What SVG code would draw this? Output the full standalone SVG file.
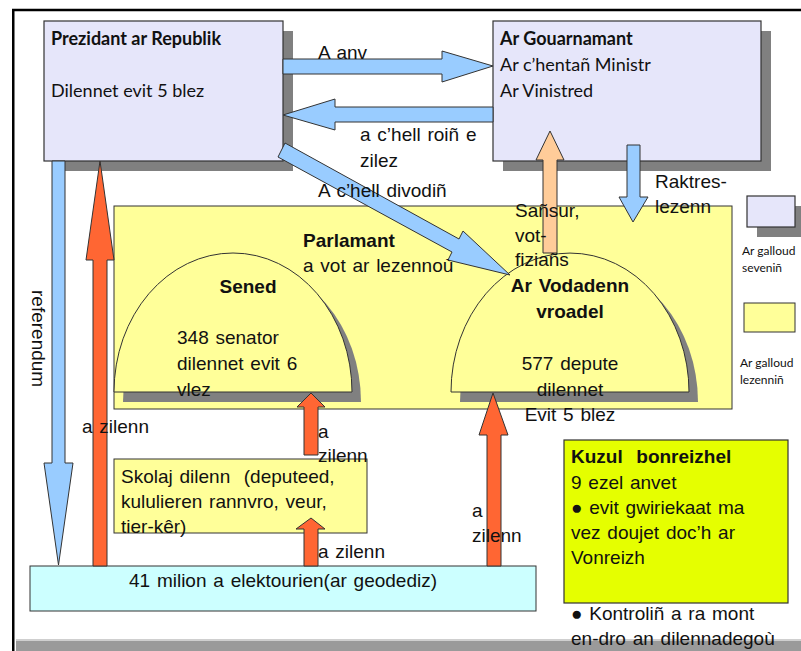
<svg xmlns="http://www.w3.org/2000/svg" width="801" height="651" viewBox="0 0 801 651">
<style>
.shadow{fill:#808080}
.exec{fill:#E6E6FA;stroke:#333;stroke-width:1.2}
.leg{fill:#FFFF99;stroke:#333;stroke-width:1}
.elect{fill:#CCFFFF;stroke:#333;stroke-width:1}
.kuzul{fill:#E5FF00;stroke:#333;stroke-width:1.2}
.blue{fill:#99CCFF;stroke:#333;stroke-width:1}
.red{fill:#FF6633;stroke:#333;stroke-width:1}
.peach{fill:#FFCC99;stroke:#333;stroke-width:1}
.cal{font-family:Lato,"Noto Sans",sans-serif;fill:#111}
.ar{font-family:"Liberation Sans",Arial,sans-serif;font-size:19px;word-spacing:1.5px;fill:#111}
.b{font-weight:bold}
</style>
<rect x="13" y="10" width="790" height="630" fill="#fff"/>
<rect x="16" y="641" width="790" height="10" fill="#9a9a9a"/>
<rect x="16" y="639" width="790" height="2" fill="#cfcfcf"/>
<path d="M801,10 H13.25 V651" fill="none" stroke="#000" stroke-width="2.5"/>

<g id="prezidant">
<rect class="shadow" x="54" y="31" width="239" height="140"/>
<rect class="exec" x="44" y="21" width="239" height="140"/>
<text class="cal b" x="51" y="45" font-size="18">Prezidant ar Republik</text>
<text class="cal" x="51" y="97" font-size="18">Dilennet evit 5 blez</text>
</g>

<g id="gouarnamant">
<rect class="shadow" x="503" y="31" width="268" height="140"/>
<rect class="exec" x="493" y="21" width="268" height="140"/>
<text class="cal b" x="500" y="45" font-size="18">Ar Gouarnamant</text>
<text class="cal" x="500" y="71" font-size="18">Ar c’hentañ Ministr</text>
<text class="cal" x="500" y="97" font-size="18">Ar Vinistred</text>
</g>

<g id="parlamant">
<rect class="leg" x="114" y="206" width="618" height="203"/>
</g>

<g id="sened">
<path class="shadow" d="M123,402 A119,139 0 0 1 361,402 Z"/>
<path class="leg" d="M114,392 A119,139 0 0 1 352,392 Z"/>
</g>

<g id="vodadenn">
<path class="shadow" d="M460,402 A119,139 0 0 1 698,402 Z"/>
<path class="leg" d="M451,392 A119,139 0 0 1 689,392 Z"/>
</g>

<g id="skolaj">
<rect class="leg" x="114" y="459" width="253" height="74"/>
</g>

<g id="elektourien">
<rect class="elect" x="30" y="566" width="506" height="45"/>
</g>

<g id="kuzul">
<rect class="kuzul" x="564" y="440" width="224" height="163"/>
</g>

<g id="legend-seveniñ">
<rect class="shadow" x="757" y="206" width="48" height="31"/>
<rect class="exec" x="747" y="196" width="48" height="31"/>
<text class="cal" x="742" y="255" font-size="12">Ar galloud</text>
<text class="cal" x="742" y="272" font-size="12">seveniñ</text>
</g>

<g id="legend-lezenniñ">
<rect class="leg" x="744" y="303" width="51" height="29"/>
<text class="cal" x="740" y="367" font-size="12">Ar galloud</text>
<text class="cal" x="740" y="384" font-size="12">lezenniñ</text>
</g>

<g id="connectors">
<polygon class="blue" points="283,59 442,59 442,51 493,66 442,82 442,74 283,74"/>
<polygon class="blue" points="493,107 335,107 335,99 283,115 335,130 335,122 493,122"/>
<polygon class="blue" points="285,143 459,239 463,231 510,275 448,260 452,252 278,157"/>
<polygon class="peach" points="543,253 543,160 536,160 550,131 564,160 557,160 557,253"/>
<polygon class="blue" points="627,145 640,145 640,197 648,197 633,222 619,197 627,197"/>
<polygon class="blue" points="52,161 65,161 65,463 73,463 58.5,565 44,463 52,463"/>
<polygon class="red" points="93,566 93,260 86,260 100,161 114,260 107,260 107,566"/>
<polygon class="red" points="304,455 304,407 297,407 311,393 325,407 318,407 318,455"/>
<polygon class="red" points="304,566 304,529 296,529 311,518 325,529 318,529 318,566"/>
<polygon class="red" points="487,566 487,435 479,435 493,393 508,435 501,435 501,566"/>
</g>

<g id="labels">
<text class="ar" x="318" y="59">A anv</text>
<text class="ar" x="360" y="141">a c’hell roiñ e</text>
<text class="ar" x="360" y="167">zilez</text>
<text class="ar" x="318" y="197">A c’hell divodiñ</text>
<text class="ar" x="515" y="217">Sañsur,</text>
<text class="ar" x="515" y="242">vot-</text>
<text class="ar" x="515" y="266">fiziañs</text>
<text class="ar" x="655" y="188">Raktres-</text>
<text class="ar" x="655" y="213">lezenn</text>
<text class="ar b" x="303" y="247">Parlamant</text>
<text class="ar" x="303" y="272">a vot ar lezennoù</text>
<text class="ar b" x="248" y="293" text-anchor="middle">Sened</text>
<text class="ar" x="177" y="344">348 senator</text>
<text class="ar" x="177" y="370">dilennet evit 6</text>
<text class="ar" x="177" y="396">vlez</text>
<text class="ar b" x="570" y="292" text-anchor="middle">Ar Vodadenn</text>
<text class="ar b" x="570" y="318" text-anchor="middle">vroadel</text>
<text class="ar" x="570" y="370" text-anchor="middle">577 depute</text>
<text class="ar" x="570" y="396" text-anchor="middle">dilennet</text>
<text class="ar" x="570" y="421" text-anchor="middle">Evit 5 blez</text>
<text class="ar" transform="translate(32,290) rotate(90)">referendum</text>
<text class="ar" x="82" y="433">a zilenn</text>
<text class="ar" x="318" y="438">a</text>
<text class="ar" x="318" y="462">zilenn</text>
<text class="ar" x="121" y="483">Skolaj dilenn &#160;(deputeed,</text>
<text class="ar" x="121" y="508">kululieren rannvro, veur,</text>
<text class="ar" x="121" y="533">tier-kêr)</text>
<text class="ar" x="318" y="558">a zilenn</text>
<text class="ar" x="472" y="517">a</text>
<text class="ar" x="472" y="542">zilenn</text>
<text class="ar" x="283" y="587" text-anchor="middle">41 milion a elektourien(ar geodediz)</text>
<text class="ar b" x="571" y="463">Kuzul &#160;bonreizhel</text>
<text class="ar" x="571" y="489">9 ezel anvet</text>
<text class="ar" x="571" y="514">● evit gwiriekaat ma</text>
<text class="ar" x="571" y="539">vez doujet doc’h ar</text>
<text class="ar" x="571" y="564">Vonreizh</text>
<text class="ar" x="571" y="620">● Kontroliñ a ra mont</text>
<text class="ar" x="571" y="645">en-dro an dilennadegoù</text>
</g>
</svg>
